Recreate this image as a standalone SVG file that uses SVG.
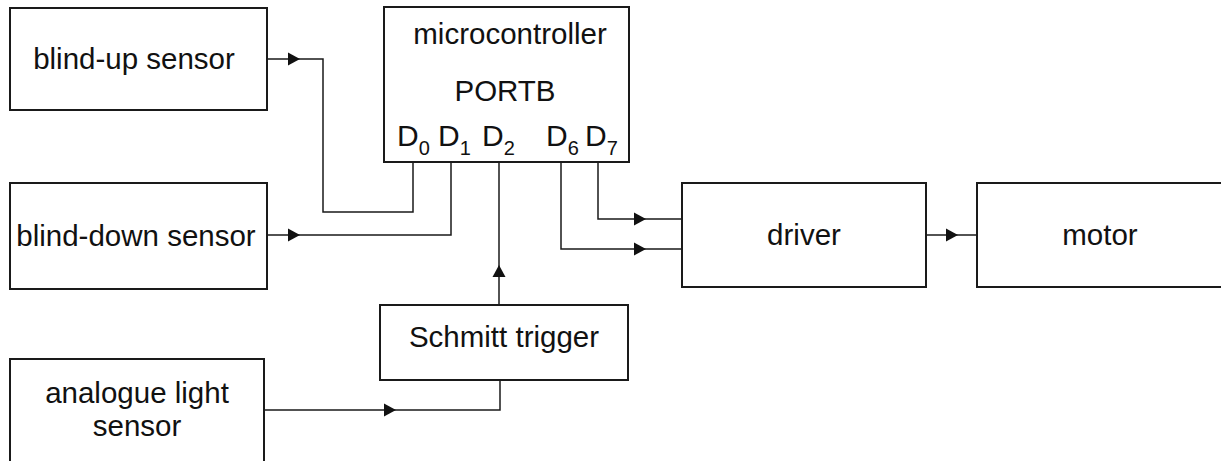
<svg xmlns="http://www.w3.org/2000/svg" width="1221" height="461" viewBox="0 0 1221 461">
  <style>
    .box { fill: #fff; stroke: #1a1a1a; stroke-width: 2; }
    .wire { fill: none; stroke: #1a1a1a; stroke-width: 1.5; }
    .lbl { font-family: "Liberation Sans", Arial, sans-serif; font-size: 29.5px; fill: #111; text-anchor: middle; }
    .pin { font-family: "Liberation Sans", Arial, sans-serif; font-size: 30px; fill: #111; }
    .sub { font-size: 20px; }
    .head { fill: #111; }
  </style>
  <defs>
    <!-- filled arrowhead, tip at the origin, pointing along +x -->
    <path id="ar" class="head" d="M0,0 L-12,-6.5 L-12,6.5 Z"/>
  </defs>

  <g id="connectors">
    <path class="wire" d="M267,59 H323 V212 H413 V162"/>
    <path class="wire" d="M267,235 H451 V162"/>
    <path class="wire" d="M499,305 V162"/>
    <path class="wire" d="M264,410 H500 V380"/>
    <path class="wire" d="M598,162 V219 H682"/>
    <path class="wire" d="M561,162 V249 H682"/>
    <path class="wire" d="M926,235 H977"/>
    <use href="#ar" transform="translate(300,59)"/>
    <use href="#ar" transform="translate(300,235)"/>
    <use href="#ar" transform="translate(499,265) rotate(-90)"/>
    <use href="#ar" transform="translate(396,410)"/>
    <use href="#ar" transform="translate(646,219)"/>
    <use href="#ar" transform="translate(646,249)"/>
    <use href="#ar" transform="translate(958,235)"/>
  </g>

  <g id="blind-up">
    <rect class="box" x="10" y="8" width="257" height="102"/>
    <text class="lbl" x="134" y="69">blind-up sensor</text>
  </g>

  <g id="blind-down">
    <rect class="box" x="10" y="183" width="257" height="106"/>
    <text class="lbl" x="136" y="246">blind-down sensor</text>
  </g>

  <g id="analogue">
    <rect class="box" x="10" y="359" width="254" height="110"/>
    <text class="lbl" x="137" y="403">analogue light</text>
    <text class="lbl" x="137" y="436">sensor</text>
  </g>

  <g id="microcontroller">
    <rect class="box" x="384" y="7" width="245" height="155"/>
    <text class="lbl" x="510" y="44">microcontroller</text>
    <text class="lbl" x="505" y="101">PORTB</text>
    <text class="pin" x="397" y="146">D<tspan class="sub" dy="9">0</tspan></text>
    <text class="pin" x="438" y="146">D<tspan class="sub" dy="9">1</tspan></text>
    <text class="pin" x="482" y="146">D<tspan class="sub" dy="9">2</tspan></text>
    <text class="pin" x="546" y="146">D<tspan class="sub" dy="9">6</tspan></text>
    <text class="pin" x="585" y="146">D<tspan class="sub" dy="9">7</tspan></text>
  </g>

  <g id="schmitt">
    <rect class="box" x="380" y="305" width="248" height="75"/>
    <text class="lbl" x="504" y="347">Schmitt trigger</text>
  </g>

  <g id="driver">
    <rect class="box" x="682" y="183" width="244" height="104"/>
    <text class="lbl" x="804" y="245">driver</text>
  </g>

  <g id="motor">
    <rect class="box" x="977" y="183" width="250" height="104"/>
    <text class="lbl" x="1100" y="245">motor</text>
  </g>
</svg>
